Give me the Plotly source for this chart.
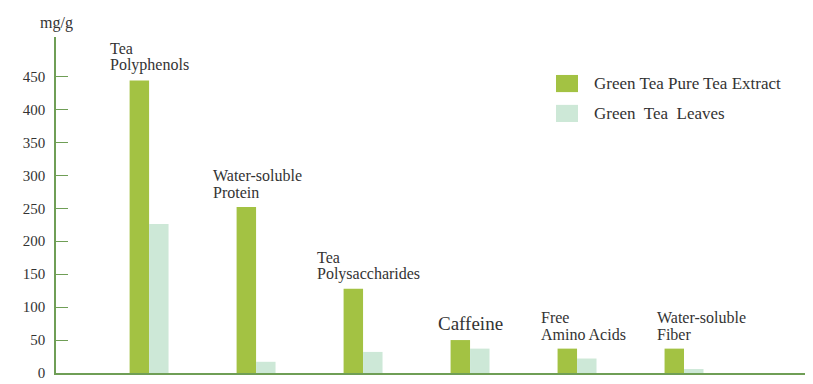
import plotly.graph_objects as go

categories = ["Tea<br>Polyphenols", "Water-soluble<br>Protein", "Tea<br>Polysaccharides",
              "Caffeine", "Free<br>Amino Acids", "Water-soluble<br>Fiber"]
extract = [444, 252, 128, 50, 37, 37]
leaves = [226, 17, 32, 37, 22, 6]
series_names = ["Green Tea Pure Tea Extract", "Green\u00a0 Tea\u00a0 Leaves"]
y_ticks = [0, 50, 100, 150, 200, 250, 300, 350, 400, 450]

GREEN = "#a3c243"
LIGHT = "#cde8d7"
AXIS = "#6f9e56"
TEXT = "#333333"
FONT = "Liberation Serif"

x = list(range(len(categories)))

fig = go.Figure()
fig.add_trace(go.Bar(x=x, y=extract, name=series_names[0], marker_color=GREEN,
                     marker_line_width=0, showlegend=False))
fig.add_trace(go.Bar(x=x, y=leaves, name=series_names[1], marker_color=LIGHT,
                     marker_line_width=0, showlegend=False))

label_shift = [-40, -44, -47, -33, -37, -28]
label_size = [16, 16, 16, 19, 16, 16]
line_gap = 17
for i, cat in enumerate(categories):
    lines = cat.split("<br>")
    for j, line in enumerate(reversed(lines)):
        fig.add_annotation(x=x[i], y=max(extract[i], leaves[i]), xref="x", yref="y",
                           text=line, showarrow=False, xanchor="left", yanchor="bottom",
                           align="left", xshift=label_shift[i], yshift=5 + j * line_gap,
                           borderpad=0,
                           font=dict(family=FONT, size=label_size[i], color=TEXT))

fig.add_annotation(x=0, y=1, xref="paper", yref="paper", text="mg/g", showarrow=False,
                   xanchor="center", yanchor="bottom", yshift=3,
                   font=dict(family=FONT, size=16, color=TEXT))

# custom legend
legend_rows = [(0.887, 0.836, GREEN), (0.798, 0.747, LIGHT)]
for (y1, y0, col), name in zip(legend_rows, series_names):
    fig.add_shape(type="rect", xref="paper", yref="paper", x0=0.6667, x1=0.696,
                  y0=y0, y1=y1, fillcolor=col, line_width=0)
    fig.add_annotation(x=0.715, y=(y0 + y1) / 2, xref="paper", yref="paper", text=name,
                       showarrow=False, xanchor="left", yanchor="middle",
                       font=dict(family=FONT, size=17, color=TEXT))

fig.update_layout(
    width=805, height=376,
    margin=dict(l=48, r=7, t=29, b=11),
    paper_bgcolor="white", plot_bgcolor="white",
    barmode="group", bargap=0.636, bargroupgap=0,
    font=dict(family=FONT, color=TEXT),
)
fig.update_xaxes(range=[-0.87, 6.14], showticklabels=False, ticks="", showgrid=False,
                 zeroline=False, showline=True, linecolor=AXIS, linewidth=1.5,
                 automargin=False)
fig.update_yaxes(range=[0, 510], tickvals=y_ticks, ticks="inside", ticklen=12,
                 tickcolor=AXIS, tickwidth=1.3, showgrid=False, zeroline=False,
                 showline=True, linecolor=AXIS, linewidth=1.5, ticklabelstandoff=6,
                 automargin=False, tickfont=dict(family=FONT, size=15, color=TEXT))

fig.write_html("out.html")
